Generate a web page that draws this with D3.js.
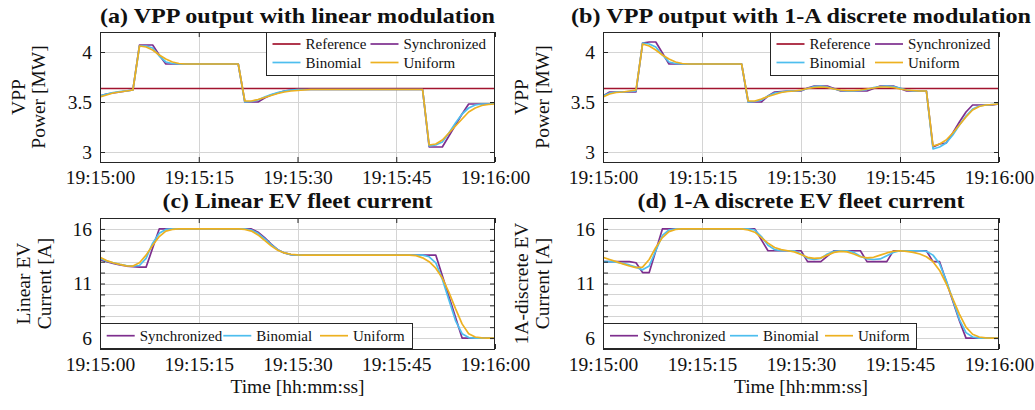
<!DOCTYPE html>
<html><head><meta charset="utf-8">
<script src="https://cdn.jsdelivr.net/npm/d3@7"></script>
<style>body{margin:0;background:#fff}svg{display:block}</style>
</head><body><svg id="chart" width="1035" height="410"></svg>
<script>
// ---------- data ----------
const timeSec = [0,1,2,3,4,5,6,7,8,9,10,11,12,13,14,15,16,17,18,19,20,21,22,23,24,25,26,27,28,29,30,
  31,32,33,34,35,36,37,38,39,40,41,42,43,44,45,46,47,48,49,50,51,52,53,54,55,56,57,58,59,60];
const xTickValues = [0,15,30,45,60];
const xTickLabels = ["19:15:00","19:15:15","19:15:30","19:15:45","19:16:00"];
const vppTicks = [3,3.5,4];
const currentGrid = [6,7,8,9,10,11,12,13,14,15,16];
const currentTickLabels = [6,11,16];
const vppReference = 3.635;

// (a) VPP, linear modulation
const vppLinSync = [3.56,3.58,3.59,3.60,3.61,3.62,4.07,4.07,4.07,3.97,3.88,
  3.88,3.88,3.88,3.88,3.88,3.88,3.88,3.88,3.88,3.88,3.88,
  3.50,3.50,3.50,3.54,3.57,3.59,3.61,3.62,
  3.625,3.625,3.625,3.625,3.625,3.625,3.625,3.625,3.625,3.625,3.625,3.625,3.625,3.625,3.625,3.625,3.625,3.625,3.625,3.625,
  3.05,3.05,3.05,3.16,3.27,3.38,3.48,3.48,3.48,3.48,3.49];
const vppLinBinom = [3.56,3.58,3.595,3.605,3.612,3.62,4.06,4.06,4.04,3.96,3.90,3.885,3.88,
  3.88,3.88,3.88,3.88,3.88,3.88,3.88,3.88,3.88,
  3.50,3.505,3.52,3.55,3.575,3.595,3.61,3.618,
  3.625,3.625,3.625,3.625,3.625,3.625,3.625,3.625,3.625,3.625,3.625,3.625,3.625,3.625,3.625,3.625,3.625,3.625,3.625,3.625,
  3.06,3.07,3.10,3.19,3.29,3.38,3.44,3.47,3.48,3.48,3.49];
const vppLinUnif = [3.55,3.57,3.59,3.60,3.61,3.62,4.06,4.05,4.02,3.97,3.93,3.90,3.885,3.88,
  3.88,3.88,3.88,3.88,3.88,3.88,3.88,3.88,
  3.51,3.51,3.525,3.545,3.565,3.585,3.60,3.61,3.615,3.62,
  3.625,3.625,3.625,3.625,3.625,3.625,3.625,3.625,3.625,3.625,3.625,3.625,3.625,3.625,3.625,3.625,3.625,
  3.625,3.07,3.08,3.12,3.19,3.26,3.33,3.40,3.44,3.465,3.475,3.48];

// (b) VPP, 1-A discrete modulation
const vppDisSync = [3.56,3.60,3.60,3.60,3.60,3.60,4.09,4.10,4.10,3.99,3.88,
  3.88,3.88,3.88,3.88,3.88,3.88,3.88,3.88,3.88,3.88,3.88,
  3.50,3.50,3.50,3.56,3.60,3.605,3.61,3.61,3.61,3.64,3.66,3.66,3.66,3.635,3.61,3.61,3.61,3.61,3.61,3.635,3.66,3.66,3.66,3.635,3.61,3.61,3.61,3.61,
  3.05,3.08,3.09,3.19,3.30,3.40,3.47,3.47,3.47,3.47,3.48];
const vppDisBinom = [3.56,3.59,3.60,3.60,3.605,3.61,4.09,4.08,4.05,3.97,3.90,3.885,3.88,
  3.88,3.88,3.88,3.88,3.88,3.88,3.88,3.88,3.88,
  3.50,3.505,3.52,3.56,3.59,3.60,3.61,3.61,3.615,3.635,3.655,3.66,3.65,3.63,3.615,3.61,3.61,3.615,3.625,3.645,3.655,3.66,3.655,3.64,3.62,3.61,3.61,3.61,
  3.03,3.05,3.09,3.17,3.27,3.36,3.43,3.46,3.47,3.475,3.48];
const vppDisUnif = [3.55,3.58,3.595,3.60,3.61,3.62,4.08,4.06,4.02,3.97,3.93,3.90,3.885,3.88,
  3.88,3.88,3.88,3.88,3.88,3.88,3.88,3.88,
  3.51,3.51,3.53,3.555,3.575,3.595,3.605,3.61,3.62,3.635,3.645,3.65,3.645,3.63,3.62,3.615,3.615,3.62,3.63,3.64,3.65,3.65,3.645,3.63,3.62,3.615,3.61,3.61,
  3.06,3.08,3.12,3.19,3.27,3.35,3.42,3.455,3.47,3.475,3.48];

// (c) Linear EV fleet current
const curLinSync = [13.2,13.0,12.85,12.7,12.6,12.55,12.5,12.5,14.25,16,
  16,16,16,16,16,16,16,16,16,16,16,16,16,16,
  15.7,15.2,14.6,14.1,13.8,13.65,13.6,
  13.6,13.6,13.6,13.6,13.6,13.6,13.6,13.6,13.6,13.6,13.6,13.6,13.6,13.6,13.6,13.6,13.6,13.6,13.6,13.6,13.6,
  11.7,9.8,7.9,6.0,6,6,6,6,6];
const curLinBinom = [13.3,13.05,12.9,12.75,12.65,12.58,12.65,13.3,14.7,15.6,15.95,16,
  16,16,16,16,16,16,16,16,16,16,16,
  15.9,15.6,15.1,14.55,14.1,13.8,13.65,13.6,
  13.6,13.6,13.6,13.6,13.6,13.6,13.6,13.6,13.6,13.6,13.6,13.6,13.6,13.6,13.6,13.6,13.6,13.6,13.6,
  13.45,12.9,11.4,9.5,7.6,6.4,6.05,6,6,6,6];
const curLinUnif = [13.4,13.1,12.9,12.75,12.62,12.6,12.9,13.6,14.5,15.3,15.8,15.95,16,
  16,16,16,16,16,16,16,16,16,
  15.95,15.8,15.45,14.95,14.45,14.05,13.8,13.68,13.62,
  13.6,13.6,13.6,13.6,13.6,13.6,13.6,13.6,13.6,13.6,13.6,13.6,13.6,13.6,13.6,13.6,13.6,
  13.55,13.35,13.0,12.4,11.5,10.2,8.7,7.3,6.4,6.1,6.02,6,6];

// (d) 1-A discrete EV fleet current
const curDisSync = [13,13,13,13,13,12.9,12,12,14,16,
  16,16,16,16,16,16,16,16,16,16,16,16,16,16,
  15,14,14,14,14,14,14,13,13,13,13.5,14,14,14,14,14,13,13,13,13,14,14,14,14,14,
  14,13,13,11.2,9.4,7.6,6,6,6,6,6,6];
const curDisBinom = [13,13,12.95,12.85,12.7,12.5,12.25,12.6,14,15.4,15.9,16,
  16,16,16,16,16,16,16,16,16,16,16,
  15.9,15.3,14.5,14.1,14,14,14,13.7,13.3,13.2,13.3,13.7,13.95,14,14,13.85,13.5,13.25,13.2,13.25,13.55,13.85,14,14,14,14,
  13.95,13.6,12.8,11.3,9.5,7.7,6.5,6.1,6,6,6,6];
const curDisUnif = [13.4,13.2,13.0,12.8,12.6,12.45,12.5,13.2,14.3,15.2,15.75,15.95,16,
  16,16,16,16,16,16,16,16,16,
  15.9,15.7,15.2,14.7,14.3,14.1,14.0,13.9,13.65,13.4,13.3,13.35,13.6,13.85,13.95,13.9,13.7,13.45,13.35,13.4,13.6,13.8,13.95,
  14.0,13.95,13.85,13.7,13.45,13.0,12.2,11.0,9.6,8.2,7.0,6.35,6.1,6.02,6,6];

const colors = {ref:"#A2142F", sync:"#7E2F8E", binom:"#4DBEEE", unif:"#EDB120"};
const names = {ref:"Reference", sync:"Synchronized", binom:"Binomial", unif:"Uniform"};
const FONT = "'Liberation Serif','Times New Roman',serif";

const svg = d3.select("#chart");

const panels = [
 {x0:100,x1:495,yT:32,yB:162,dom:[2.9,4.2],grid:vppTicks,labels:vppTicks,
  title:"(a) VPP output with linear modulation",titleLen:395,titleY:23,
  ylab:[["VPP",25],["Power [MW]",45]],
  series:{sync:vppLinSync,binom:vppLinBinom,unif:vppLinUnif},ref:true,
  legend:{x:266,y:32,w:229,h:44,items:[["ref",6.5,12],["sync",104.5,12],["binom",6.5,30.5],["unif",104.5,30.5]]},
  xlab:false},
 {x0:603,x1:999,yT:32,yB:162,dom:[2.9,4.2],grid:vppTicks,labels:vppTicks,
  title:"(b) VPP output with 1-A discrete modulation",titleLen:460,titleY:23,
  ylab:[["VPP",528],["Power [MW]",549]],
  series:{sync:vppDisSync,binom:vppDisBinom,unif:vppDisUnif},ref:true,
  legend:{x:770,y:32,w:229,h:44,items:[["ref",6.5,12],["sync",105,12],["binom",6.5,30.5],["unif",105,30.5]]},
  xlab:false},
 {x0:100,x1:495,yT:218,yB:349,dom:[5,17],grid:currentGrid,labels:currentTickLabels,
  title:"(c) Linear EV fleet current",titleLen:270,titleY:208,
  ylab:[["Linear EV",30],["Current [A]",51]],
  series:{sync:curLinSync,binom:curLinBinom,unif:curLinUnif},ref:false,
  legend:{x:100,y:323,w:313,h:26,items:[["sync",6.7,12.7],["binom",123.3,12.7],["unif",220,12.7]]},
  xlab:true},
 {x0:603,x1:999,yT:218,yB:349,dom:[5,17],grid:currentGrid,labels:currentTickLabels,
  title:"(d) 1-A discrete EV fleet current",titleLen:327,titleY:208,
  ylab:[["1A-discrete EV",528],["Current [A]",549]],
  series:{sync:curDisSync,binom:curDisBinom,unif:curDisUnif},ref:false,
  legend:{x:603,y:323,w:314,h:26,items:[["sync",7,12.7],["binom",127,12.7],["unif",222,12.7]]},
  xlab:true}
];

panels.forEach((p,i) => {
  const g = svg.append("g");
  const x = d3.scaleLinear().domain([0,60]).range([p.x0,p.x1]);
  const y = d3.scaleLinear().domain(p.dom).range([p.yB,p.yT]);
  const cx = (p.x0+p.x1)/2, cy = (p.yT+p.yB)/2;

  // grid
  g.append("g").selectAll("line").data(xTickValues.slice(1,-1)).join("line")
    .attr("x1",d=>Math.round(x(d))+0.5).attr("x2",d=>Math.round(x(d))+0.5)
    .attr("y1",p.yT).attr("y2",p.yB).attr("stroke","#d4d4d4").attr("stroke-width",1);
  g.append("g").selectAll("line").data(p.grid).join("line")
    .attr("y1",d=>Math.round(y(d))+0.5).attr("y2",d=>Math.round(y(d))+0.5)
    .attr("x1",p.x0).attr("x2",p.x1).attr("stroke","#d4d4d4").attr("stroke-width",1);

  // clip
  const cid = "clip"+i;
  svg.append("clipPath").attr("id",cid).append("rect")
    .attr("x",p.x0).attr("y",p.yT).attr("width",p.x1-p.x0).attr("height",p.yB-p.yT);
  const plot = g.append("g").attr("clip-path",`url(#${cid})`);
  const line = d3.line().x((d,j)=>x(timeSec[j])).y(d=>y(d));
  if (p.ref) {
    plot.append("line").attr("x1",x(0)).attr("x2",x(60))
      .attr("y1",y(vppReference)).attr("y2",y(vppReference))
      .attr("stroke",colors.ref).attr("stroke-width",1.7);
  }
  ["sync","binom","unif"].forEach(k => {
    plot.append("path").datum(p.series[k]).attr("d",line)
      .attr("fill","none").attr("stroke",colors[k]).attr("stroke-width",1.7)
      .attr("stroke-linejoin","round");
  });

  // axes ticks (inside)
  const styleAxis = sel => {
    sel.select(".domain").remove();
    sel.selectAll(".tick line").attr("stroke","#262626");
    sel.selectAll("text").attr("fill","#111").style("font-family",FONT).style("font-size","19.5px");
  };
  g.append("g").attr("transform",`translate(0,${p.yB})`)
    .call(d3.axisBottom(x).tickValues(xTickValues).tickSize(-5).tickPadding(8)
      .tickFormat((d,j)=>xTickLabels[j])).call(styleAxis);
  g.append("g").attr("transform",`translate(0,${p.yT})`)
    .call(d3.axisTop(x).tickValues(xTickValues).tickSize(-5).tickFormat("")).call(styleAxis);
  g.append("g").attr("transform",`translate(${p.x0},0)`)
    .call(d3.axisLeft(y).tickValues(p.grid).tickSize(-5).tickPadding(8)
      .tickFormat(d=>p.labels.includes(d)?String(d):"")).call(styleAxis);
  g.append("g").attr("transform",`translate(${p.x1},0)`)
    .call(d3.axisRight(y).tickValues(p.grid).tickSize(-5).tickFormat("")).call(styleAxis);
  g.selectAll(".tick text").attr("dy", function(){ return d3.select(this.parentNode.parentNode).attr("transform").startsWith("translate(0,") ? "0.71em" : "0.32em"; });

  // box
  g.append("rect").attr("x",p.x0+0.5).attr("y",p.yT+0.5).attr("width",p.x1-p.x0-1).attr("height",p.yB-p.yT)
    .attr("fill","none").attr("stroke","#262626").attr("stroke-width",1);

  // legend
  const L = p.legend;
  const lg = g.append("g").attr("transform",`translate(${L.x},${L.y})`);
  lg.append("rect").attr("x",0.5).attr("y",0.5).attr("width",L.w-1).attr("height",L.h-1)
    .attr("fill","#fff").attr("stroke","#262626").attr("stroke-width",1);
  L.items.forEach(([k,dx,dy]) => {
    lg.append("line").attr("x1",dx).attr("x2",dx+28).attr("y1",dy).attr("y2",dy)
      .attr("stroke",colors[k]).attr("stroke-width",1.7);
    lg.append("text").attr("x",dx+33).attr("y",dy+5).text(names[k])
      .style("font-family",FONT).style("font-size","15px").attr("fill","#111");
  });

  // title
  svg.append("text").attr("x",cx).attr("y",p.titleY).attr("text-anchor","middle")
    .attr("textLength",p.titleLen).attr("lengthAdjust","spacingAndGlyphs")
    .style("font-family",FONT).style("font-weight","bold").style("font-size","22px").attr("fill","#111")
    .text(p.title);

  // y labels
  p.ylab.forEach(([t,xb]) => {
    svg.append("text").attr("transform",`translate(${xb},${cy}) rotate(-90)`)
      .attr("text-anchor","middle").style("font-family",FONT).style("font-size","19.5px").attr("fill","#111")
      .text(t);
  });

  if (p.xlab) {
    svg.append("text").attr("x",cx).attr("y",393).attr("text-anchor","middle")
      .style("font-family",FONT).style("font-size","19.5px").attr("fill","#111").text("Time [hh:mm:ss]");
  }
});
</script></body></html>
